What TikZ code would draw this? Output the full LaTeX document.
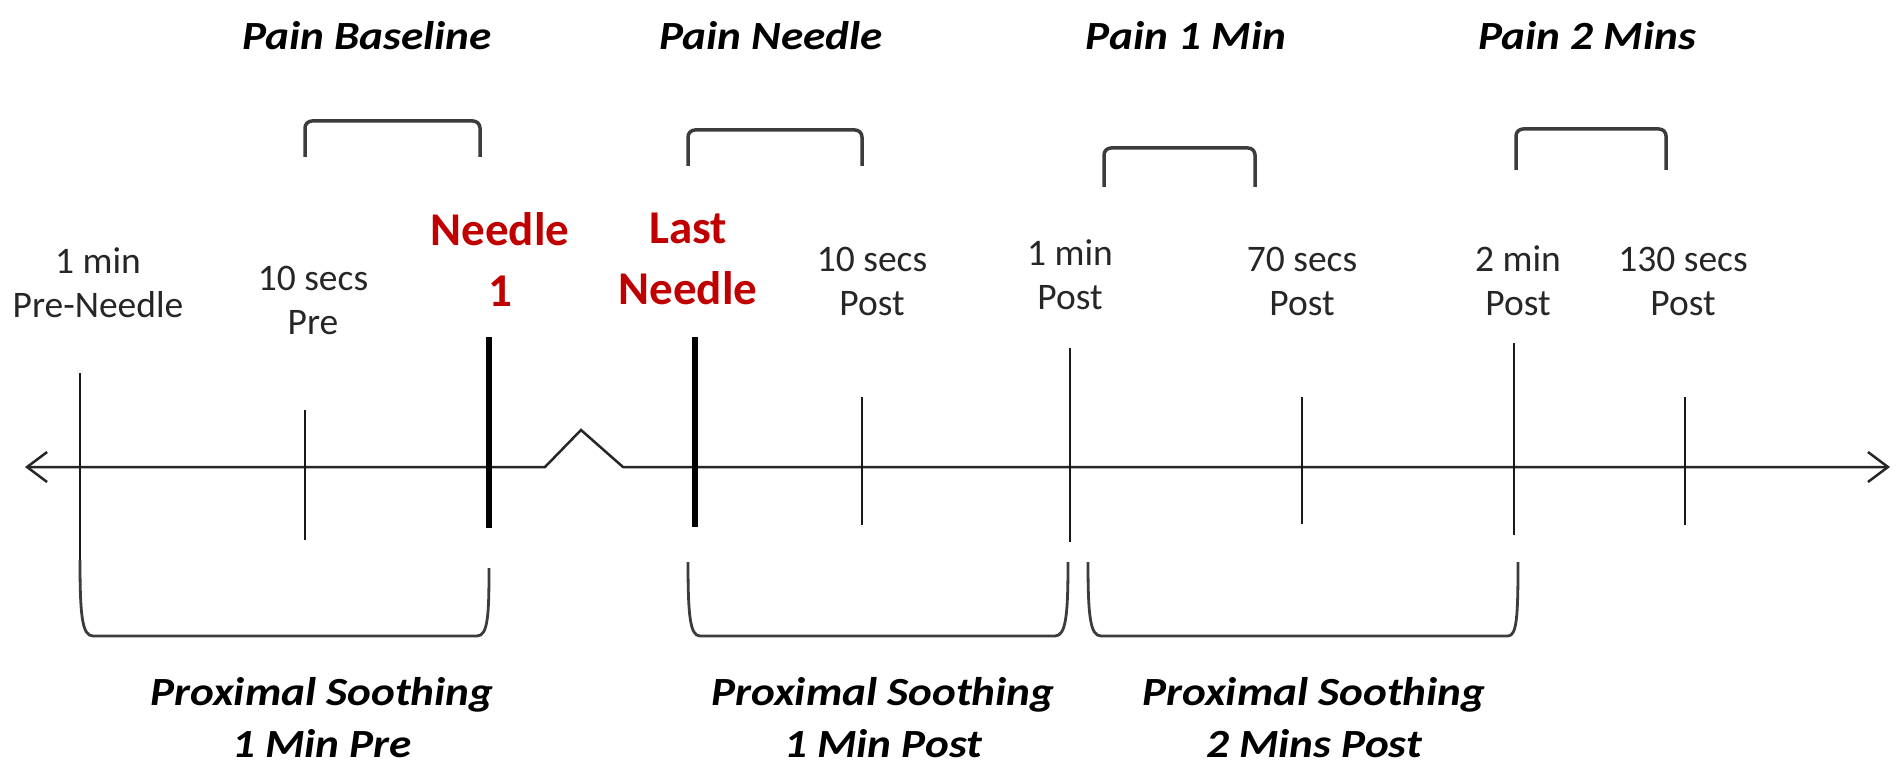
\documentclass[tikz,border=0pt]{standalone}
\usepackage{fontspec}
\setmainfont{Carlito}
\newfontfamily\ttlfont[FakeStretch=1.13]{Carlito}
\usetikzlibrary{arrows.meta}
\definecolor{needlered}{RGB}{192,0,0}
\definecolor{txtgray}{RGB}{38,38,38}
\definecolor{brgray}{RGB}{60,60,60}
\tikzset{
  lbl/.style={align=center, text=txtgray, inner sep=0pt, font=\fontsize{37.5}{44}\selectfont},
  redlbl/.style={align=center, text=needlered, inner sep=0pt, font=\bfseries\fontsize{47}{61}\selectfont},
  ttl/.style={align=center, text=black, inner sep=0pt, font=\ttlfont\bfseries\itshape\fontsize{40}{52}\selectfont},
  tick/.style={draw=black!90, line width=2.5pt},
  thicktick/.style={draw=black, line width=6pt},
  axisline/.style={draw=black!85, line width=2.5pt, {Straight Barb[length=20pt,width=30pt,line width=2.5pt]}-{Straight Barb[length=20pt,width=30pt,line width=2.5pt]}},
  topbr/.style={draw=brgray, line width=3.5pt, rounded corners=7pt},
  botbr/.style={draw=brgray, line width=2.8pt},
}
\begin{document}
\begin{tikzpicture}[x=1pt, y=-1pt]
\useasboundingbox (0,0) rectangle (1902,767);
% axis with break
\coordinate (aL) at (25,467);
\coordinate (z1) at (545,467);
\coordinate (z2) at (581,430);
\coordinate (z3) at (623,467);
\coordinate (aR) at (1890,467);
\draw[axisline] (aL) -- (z1) -- (z2) -- (z3) -- (aR);
% ticks
\draw[tick] (80,373) -- (80,562);
\draw[tick] (305,410) -- (305,540);
\draw[thicktick] (489,337) -- (489,528);
\draw[thicktick] (695,337) -- (695,527);
\draw[tick] (862,397) -- (862,525);
\draw[tick] (1070,348) -- (1070,542);
\draw[tick] (1302,397) -- (1302,524);
\draw[tick] (1514,343) -- (1514,535);
\draw[tick] (1685,397) -- (1685,525);
% top brackets
\draw[topbr] (305,157) -- (305,121) -- (480,121) -- (480,157);
\draw[topbr] (688,166) -- (688,130) -- (862,130) -- (862,166);
\draw[topbr] (1104,187) -- (1104,148) -- (1255,148) -- (1255,187);
\draw[topbr] (1516,170) -- (1516,129) -- (1666,129) -- (1666,170);
% bottom brackets
\draw[botbr] (80,560) .. controls (80,615) and (82,636) .. (93,636) -- (477,636) .. controls (488,636) and (489,615) .. (489,568);
\draw[botbr] (688,562) .. controls (688,615) and (690,636) .. (700,636) -- (1055,636) .. controls (1066,636) and (1068,615) .. (1068,562);
\draw[botbr] (1088,562) .. controls (1088,615) and (1090,636) .. (1101,636) -- (1508,636) .. controls (1517,636) and (1518,615) .. (1518,562);
% labels
\node[lbl] (l1) at (98,283) {1 min\\Pre-Needle};
\node[lbl] (l2) at (313,300) {10 secs\\Pre};
\node[redlbl] (n1) at (500,260) {Needle\\1};
\node[redlbl] (n2) at (688,259) {Last\\Needle};
\node[lbl] (l3) at (872,281) {10 secs\\Post};
\node[lbl] (l4) at (1070,275) {1 min\\Post};
\node[lbl] (l5) at (1302,281) {70 secs\\Post};
\node[lbl] (l6) at (1518,281) {2 min\\Post};
\node[lbl] (l7) at (1683,281) {130 secs\\Post};
% titles
\node[ttl] (t1) at (367,36) {Pain Baseline};
\node[ttl] (t2) at (771,36) {Pain Needle};
\node[ttl] (t3) at (1186,36) {Pain 1 Min};
\node[ttl] (t4) at (1587,36) {Pain 2 Mins};
\node[ttl] (b1) at (322,718) {Proximal Soothing\\1 Min Pre};
\node[ttl] (b2) at (883,718) {Proximal Soothing\\1 Min Post};
\node[ttl] (b3) at (1314,718) {Proximal Soothing\\2 Mins Post};
\end{tikzpicture}
\end{document}
